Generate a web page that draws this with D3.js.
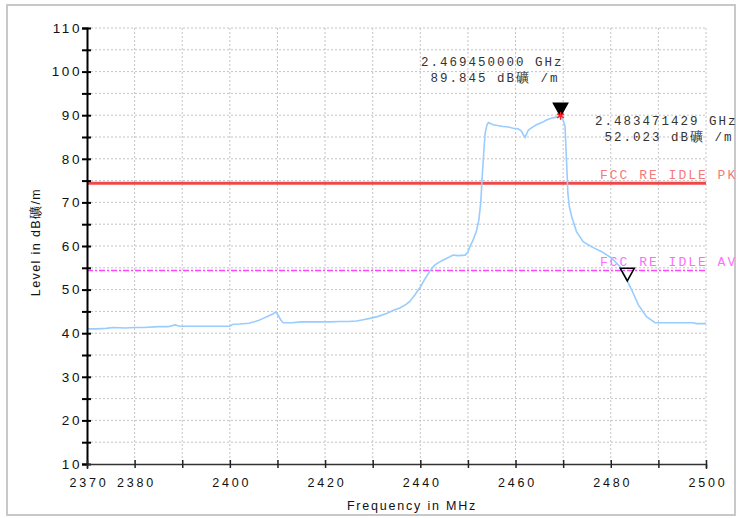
<!DOCTYPE html>
<html>
<head>
<meta charset="utf-8">
<script src="https://cdn.jsdelivr.net/npm/d3@7"></script>
<style>
  html, body { margin: 0; padding: 0; background: #fff; }
  svg { display: block; }
  text { white-space: pre; }
</style>
</head>
<body>
<svg id="chart" width="739" height="518"></svg>
<script>
// ---------- data ----------
const freqMHz = [2370,2372,2374,2375.5,2378,2380,2382,2385,2387,2388.5,2389.5,2392,2395,2398,2400,2400.5,2402,2404,2406,2407,2408,2409,2409.7,2410.2,2410.7,2411.2,2413,2415,2417,2419,2421,2423,2425,2426.6,2428,2429.4,2431,2432.9,2434.5,2435.7,2437,2437.8,2439,2440,2441,2442.1,2443,2444,2444.8,2446,2446.9,2448,2449.4,2450,2450.4,2451.1,2451.8,2452.3,2452.7,2453,2453.3,2453.6,2454,2454.3,2455.3,2456.5,2457.4,2458.5,2459.5,2460.5,2461.2,2461.7,2462,2462.4,2462.7,2463.5,2464.4,2465.5,2466.5,2467.5,2468.3,2469.45,2470,2470.4,2470.7,2471,2471.3,2471.8,2472.8,2474.2,2476,2478.1,2480.2,2481.9,2483.47,2484.4,2485.8,2487.5,2489.3,2491,2494,2497.3,2498,2500];
const levelDb = [41.0,41.0,41.1,41.3,41.2,41.3,41.3,41.5,41.5,41.9,41.6,41.6,41.6,41.6,41.6,42.0,42.1,42.3,42.9,43.4,43.9,44.4,44.9,44.0,43.0,42.4,42.4,42.6,42.6,42.6,42.6,42.7,42.7,42.8,43.1,43.4,43.8,44.5,45.3,45.8,46.6,47.3,49.0,50.6,52.5,54.4,55.6,56.3,56.8,57.4,57.9,57.8,57.9,58.6,59.8,61.4,63.5,66,70,76,81,85.8,87.8,88.3,87.8,87.6,87.4,87.3,87.0,86.9,86.4,85.4,84.9,85.9,86.6,87.2,87.8,88.3,88.9,89.3,89.5,89.845,88.9,87.4,79.7,72,69,66.7,63.3,61.0,59.8,58.7,57.2,55.3,52.023,49.9,46.5,43.8,42.4,42.4,42.4,42.4,42.2,42.2];

const xTickValues = [2370,2380,2390,2400,2410,2420,2430,2440,2450,2460,2470,2480,2490,2500];
const xTickLabels = ["2370","2380","","2400","","2420","","2440","","2460","","2480","","2500"];
const yTickValues = [10,15,20,25,30,35,40,45,50,55,60,65,70,75,80,85,90,95,100,105,110];
const yTickLabels = ["10","","20","","30","","40","","50","","60","","70","","80","","90","","100","","110"];

const limitNames = ["FCC RE IDLE PK", "FCC RE IDLE AV"];
const limitValues = [74.4, 54.4];

const markerFreqs = [2469.45, 2483.471429];
const markerLevels = [89.845, 52.023];
const markerLine1 = ["2.469450000 GHz", "2.483471429 GHz"];
const markerLine2 = [" 89.845 dB礦 /m", " 52.023 dB礦 /m"];

// ---------- layout ----------
const svg = d3.select("#chart");
const pL = 87, pR = 706, pT = 28, pB = 464;
const x = d3.scaleLinear().domain([2370, 2500]).range([pL, pR]);
const y = d3.scaleLinear().domain([10, 110]).range([pB, pT]);
const sans = "'Liberation Sans', Arial, sans-serif";
const mono = "'Liberation Mono', 'DejaVu Sans Mono', monospace";

// outer frame
svg.append("rect").attr("x", 7).attr("y", 5).attr("width", 728).attr("height", 510)
  .attr("fill", "none").attr("stroke", "#c8c8c8").attr("stroke-width", 2);

// grid
const grid = svg.append("g");
grid.selectAll("line.h").data(yTickValues.filter(v => v > 10)).join("line")
  .attr("x1", pL).attr("x2", pR).attr("y1", d => y(d)).attr("y2", d => y(d))
  .attr("stroke", "#c4c4c4").attr("stroke-width", 1).attr("stroke-dasharray", "2,2");
grid.selectAll("line.v").data(xTickValues.filter(v => v > 2370)).join("line")
  .attr("x1", d => x(d)).attr("x2", d => x(d)).attr("y1", pT).attr("y2", pB)
  .attr("stroke", "#c4c4c4").attr("stroke-width", 1).attr("stroke-dasharray", "2,2");

// limit lines
const limitColors = ["#f04848", "#ff44ff"];
const limitTextColors = ["#f47a7a", "#ff6cff"];
svg.selectAll("line.limit").data(limitValues).join("line")
  .attr("x1", pL).attr("x2", pR).attr("y1", d => y(d)).attr("y2", d => y(d))
  .attr("stroke", (d, i) => limitColors[i])
  .attr("stroke-width", (d, i) => i === 0 ? 3 : 1.5)
  .attr("stroke-dasharray", (d, i) => i === 0 ? null : "6,2,2,2");
svg.selectAll("text.limit").data(limitValues).join("text")
  .attr("x", 600).attr("y", d => y(d) - 4)
  .attr("fill", (d, i) => limitTextColors[i])
  .attr("font-family", mono).attr("font-size", 13).attr("letter-spacing", 2.0)
  .text((d, i) => limitNames[i]);

// trace
const pts = freqMHz.map((f, i) => [f, levelDb[i]]);
svg.append("path").datum(pts)
  .attr("fill", "none").attr("stroke", "#99ccff").attr("stroke-width", 1.6)
  .attr("d", d3.line().x(d => x(d[0])).y(d => y(d[1])));

// y axis
const yAxis = d3.axisLeft(y).tickValues(yTickValues).tickSize(5).tickFormat((d, i) => yTickLabels[i]);
const gy = svg.append("g").attr("transform", `translate(${pL},0)`).call(yAxis);
gy.select(".domain").attr("stroke", "#000").attr("stroke-width", 2);
gy.selectAll(".tick line").attr("x1", 4).attr("x2", -5).attr("stroke", "#000").attr("stroke-width", 2);
gy.selectAll(".tick text").attr("x", -5).attr("font-family", sans).attr("font-size", 13.5)
  .attr("letter-spacing", 2.6).attr("fill", "#111");

// x axis
const xAxis = d3.axisBottom(x).tickValues(xTickValues).tickSize(5).tickFormat((d, i) => xTickLabels[i]);
const gx = svg.append("g").attr("transform", `translate(0,${pB})`).call(xAxis);
gx.select(".domain").attr("stroke", "#333").attr("stroke-width", 1.5);
gx.selectAll(".tick line").attr("y1", -4).attr("y2", 4).attr("stroke", "#222").attr("stroke-width", 1.5);
gx.selectAll(".tick text").attr("y", 14).attr("dx", 1.5).attr("font-family", sans).attr("font-size", 12.5)
  .attr("letter-spacing", 2.8).attr("fill", "#111");

// axis titles
svg.append("text").attr("x", 412).attr("y", 510).attr("text-anchor", "middle")
  .attr("font-family", sans).attr("font-size", 12.5).attr("letter-spacing", 1.8).attr("fill", "#111")
  .text("Frequency in MHz");
svg.append("text").attr("transform", "translate(40,242) rotate(-90)").attr("text-anchor", "middle")
  .attr("font-family", sans).attr("font-size", 12.5).attr("letter-spacing", 1.4).attr("fill", "#111")
  .text("Level in dB礦/m");

// markers
const mk = markerFreqs.map((f, i) => ({ f, v: markerLevels[i], i }));
svg.selectAll("path.marker").data(mk).join("path")
  .attr("d", d => {
    const px = x(d.f), py = y(d.v);
    return `M${px - 7},${py - 12.5}L${px + 7},${py - 12.5}L${px},${py}Z`;
  })
  .attr("fill", d => d.i === 0 ? "#000" : "none")
  .attr("stroke", "#000").attr("stroke-width", 1.6);
// asterisk on first marker
const star = svg.append("g").attr("stroke", "#ff2020").attr("stroke-width", 1.3);
[0, 60, 120].forEach(a => {
  const r = 4, rad = a * Math.PI / 180, px = x(markerFreqs[0]), py = y(markerLevels[0]);
  star.append("line").attr("x1", px - r * Math.sin(rad)).attr("y1", py - r * Math.cos(rad))
    .attr("x2", px + r * Math.sin(rad)).attr("y2", py + r * Math.cos(rad));
});

// marker annotations
const annoX = [421, 595], annoY = [66, 125];
mk.forEach(d => {
  const g = svg.append("text").attr("font-family", mono).attr("font-size", 12.5)
    .attr("letter-spacing", 2.0).attr("fill", "#333");
  g.append("tspan").attr("x", annoX[d.i]).attr("y", annoY[d.i]).text(markerLine1[d.i]);
  g.append("tspan").attr("x", annoX[d.i]).attr("y", annoY[d.i] + 16).text(markerLine2[d.i]);
});
</script>
</body>
</html>
